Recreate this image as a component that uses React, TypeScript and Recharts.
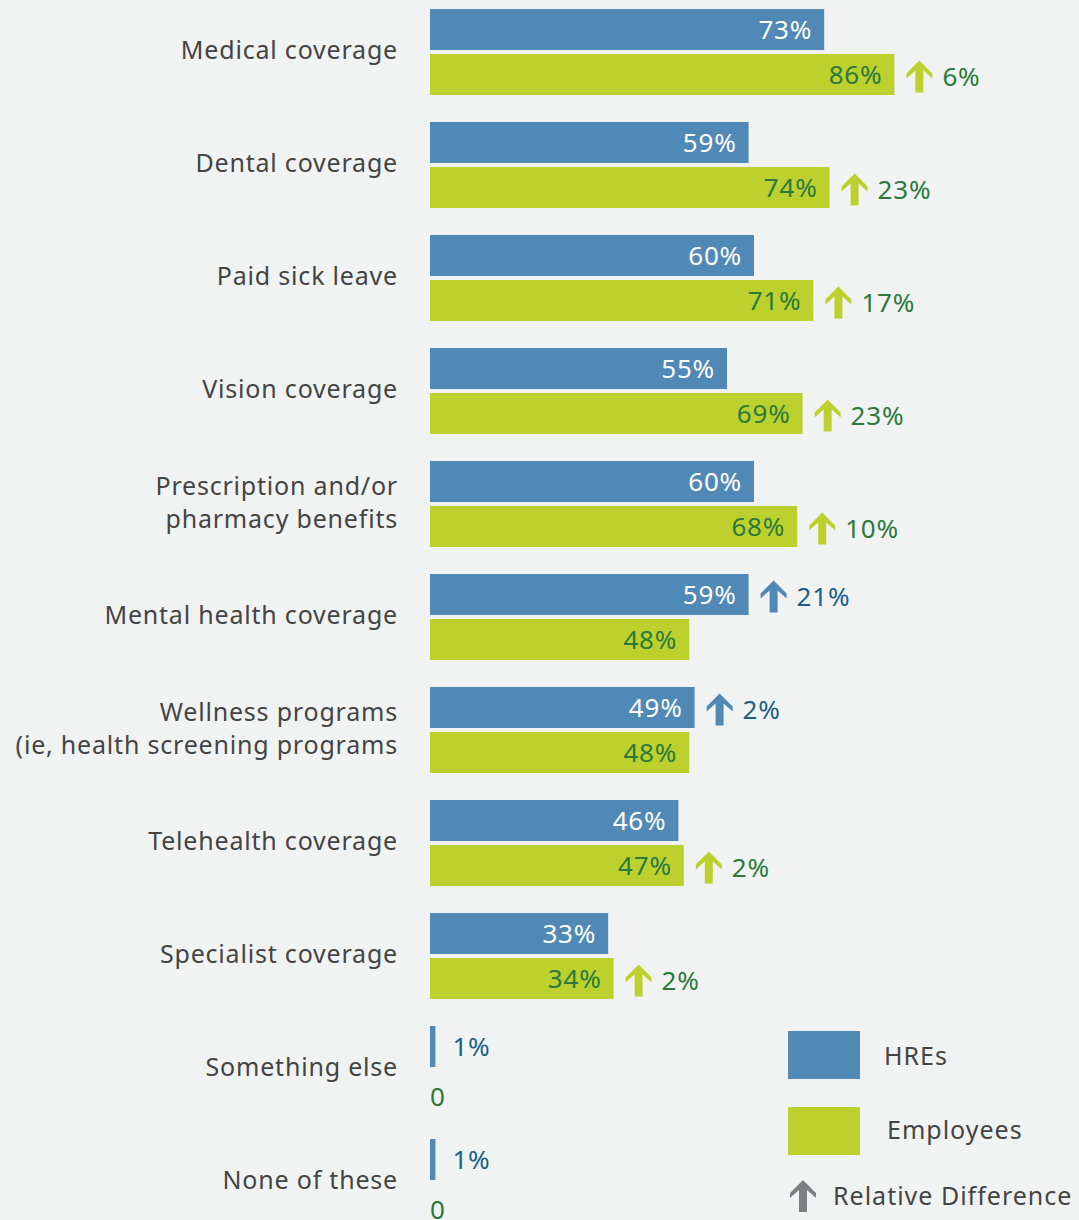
import React from "react";
import { BarChart, Bar, XAxis, YAxis, LabelList } from "recharts";

// Catégories et valeurs
const categories = [
  "Medical coverage",
  "Dental coverage",
  "Paid sick leave",
  "Vision coverage",
  "Prescription and/or\npharmacy benefits",
  "Mental health coverage",
  "Wellness programs\n(ie, health screening programs",
  "Telehealth coverage",
  "Specialist coverage",
  "Something else",
  "None of these",
];
const hreValues = [73, 59, 60, 55, 60, 59, 49, 46, 33, 1, 1];
const employeeValues = [86, 74, 71, 69, 68, 48, 48, 47, 34, 0, 0];
// écart relatif affiché à côté de la barre la plus haute
const hreDiff: (number | null)[] = [null, null, null, null, null, 21, 2, null, null, null, null];
const employeeDiff: (number | null)[] = [6, 23, 17, 23, 10, null, null, 2, 2, null, null];

const BLUE = "#5088b6";
const GREEN = "#bdd12e";
const BLUE_TEXT = "#1c5f88";
const GREEN_TEXT = "#2b7a3b";
const GRAY = "#444444";
const BG = "#f1f3f2";
const FONT = "'Noto Sans', 'Open Sans', sans-serif";
const BAR_SIZE = 41;
const BAR_GAP = 4;

const data = categories.map((name, i) => ({
  name,
  hre: hreValues[i],
  employees: employeeValues[i],
  hreDiff: hreDiff[i],
  employeeDiff: employeeDiff[i],
}));

const CategoryTick = (props: any) => {
  const { x, y, payload } = props;
  const lines = String(payload.value).split("\n");
  const lh = 33;
  const start = y - 1 - ((lines.length - 1) * lh) / 2;
  return (
    <text x={x - 24} textAnchor="end" fill={GRAY} fontSize={25} letterSpacing={0.8} fontFamily={FONT}>
      {lines.map((l, i) => (
        <tspan key={i} x={x - 24} y={start + i * lh} dy="0.35em">
          {l}
        </tspan>
      ))}
    </text>
  );
};

const valueText = (x: number, y: number, anchor: string, color: string, txt: string) => (
  <text x={x} y={y} dy="0.35em" textAnchor={anchor} fill={color} fontSize={26} letterSpacing={0.8} fontFamily={FONT}>
    {txt}
  </text>
);

const makeValueLabel = (inside: string, outside: string) => (props: any) => {
  const { x, y, width, height, value } = props;
  const cy = y + height / 2;
  if (value < 10) return valueText(x + width + 17, cy, "start", outside, `${value}%`);
  return valueText(x + width - 12, cy, "end", inside, `${value}%`);
};

// les barres à 0 ne sont pas dessinées : on place le "0" sous la barre HRE
const ZeroEmployeeLabel = (props: any) => {
  const { x, y, height, value } = props;
  if (value !== 0) return null;
  return valueText(x, y + height + BAR_GAP + BAR_SIZE / 2 + 5, "start", GREEN_TEXT, "0");
};

const ArrowIcon = ({ x, y, color }: { x: number; y: number; color: string }) => (
  <path
    transform={`translate(${x},${y})`}
    d="M13,0 L26,13 L26,18 L17,10 L17,32 L9,32 L9,10 L0,18 L0,13 Z"
    fill={color}
  />
);

const makeDiffLabel = (arrowColor: string, textColor: string) => (props: any) => {
  const { x, y, width, height, value } = props;
  if (value === null || value === undefined) return null;
  const cy = y + height / 2;
  const end = x + width;
  return (
    <g>
      <ArrowIcon x={end + 12} y={cy - 14} color={arrowColor} />
      {valueText(end + 48, cy + 2, "start", textColor, `${value}%`)}
    </g>
  );
};

const LegendBlock = () => (
  <div
    style={{
      position: "absolute",
      left: 788,
      top: 1031,
      fontFamily: FONT,
      color: GRAY,
      fontSize: 25,
      letterSpacing: 1,
    }}
  >
    <div style={{ position: "absolute", left: 0, top: 0, width: 72, height: 48, background: BLUE }} />
    <div style={{ position: "absolute", left: 96, top: 24, transform: "translateY(-50%)", whiteSpace: "nowrap" }}>
      HREs
    </div>
    <div style={{ position: "absolute", left: 0, top: 76, width: 72, height: 48, background: GREEN }} />
    <div style={{ position: "absolute", left: 99, top: 98, transform: "translateY(-50%)", whiteSpace: "nowrap" }}>
      Employees
    </div>
    <svg style={{ position: "absolute", left: 2, top: 149 }} width={28} height={34}>
      <ArrowIcon x={0} y={0} color="#7d8083" />
    </svg>
    <div style={{ position: "absolute", left: 45, top: 164, transform: "translateY(-50%)", whiteSpace: "nowrap" }}>
      Relative Difference
    </div>
  </div>
);

const App: React.FC = () => {
  return (
    <div style={{ position: "relative", width: 1079, height: 1220, background: BG, overflow: "hidden" }}>
      <style>{`body{margin:0}`}</style>
      <div style={{ position: "absolute", left: 0, top: -5 }}>
        <BarChart
          layout="vertical"
          width={1079}
          height={1243}
          data={data}
          margin={{ top: 0, right: 109, left: 0, bottom: 0 }}
          barSize={BAR_SIZE}
          barGap={BAR_GAP}
        >
          <XAxis type="number" domain={[0, 100]} hide />
          <YAxis
            type="category"
            dataKey="name"
            width={430}
            axisLine={false}
            tickLine={false}
            tick={<CategoryTick />}
            interval={0}
          />
          <Bar dataKey="hre" fill={BLUE} isAnimationActive={false}>
            <LabelList dataKey="hre" content={makeValueLabel("#ffffff", BLUE_TEXT)} />
            <LabelList dataKey="hreDiff" content={makeDiffLabel(BLUE, BLUE_TEXT)} />
            <LabelList dataKey="employees" content={<ZeroEmployeeLabel />} />
          </Bar>
          <Bar dataKey="employees" fill={GREEN} isAnimationActive={false}>
            <LabelList dataKey="employees" content={makeValueLabel(GREEN_TEXT, GREEN_TEXT)} />
            <LabelList dataKey="employeeDiff" content={makeDiffLabel(GREEN, GREEN_TEXT)} />
          </Bar>
        </BarChart>
      </div>
      <LegendBlock />
    </div>
  );
};

export default App;
